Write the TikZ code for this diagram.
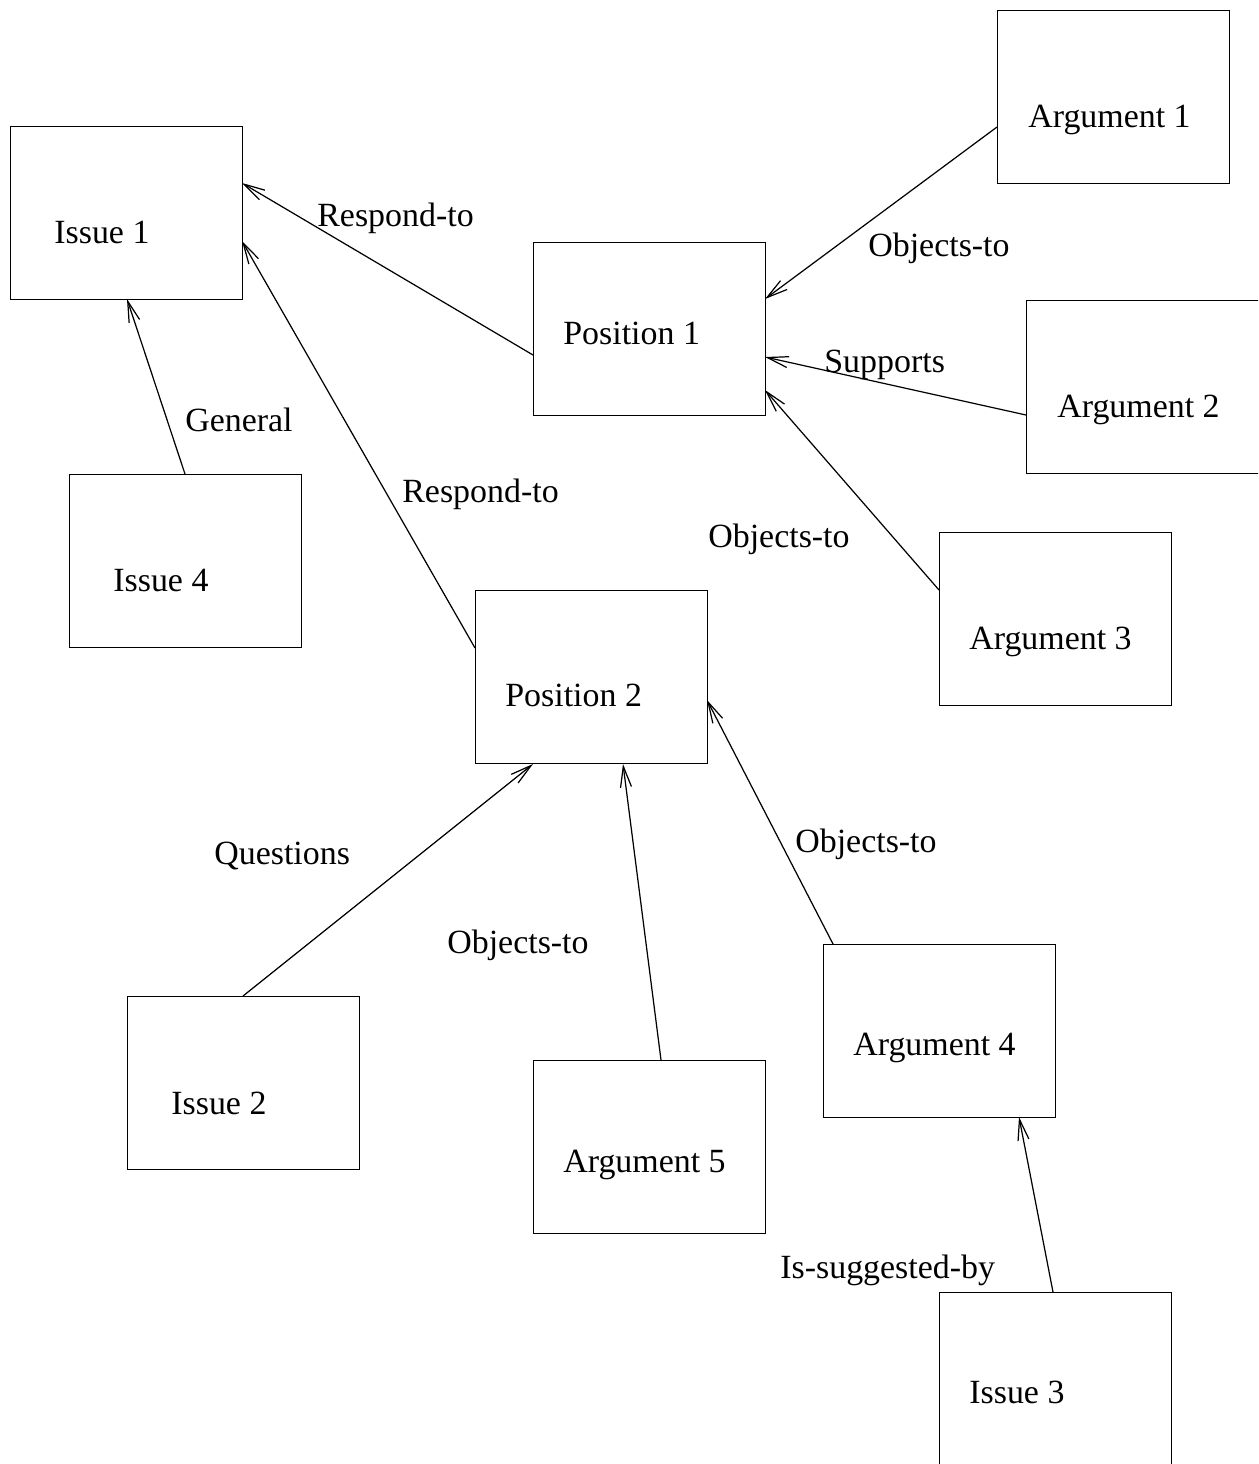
\documentclass[tikz,border=0pt]{standalone}
\usepackage{fontspec}
\setmainfont{Liberation Serif}
\usetikzlibrary{arrows.meta,calc}

\begin{document}
\begin{tikzpicture}[x=0.02cm,y=-0.02cm,
  box/.style={draw, line width=0.8pt, inner sep=0pt, anchor=north west,
              minimum width=4.64cm, minimum height=3.46cm},
  wide/.style={box, minimum width=4.9cm},
  txt/.style={anchor=base west, inner sep=0pt,
              font=\fontsize{19.3}{23}\selectfont},
  conn/.style={line width=0.7pt, -{Straight Barb[length=0.42cm,width=0.22cm,line width=0.7pt]}}]

\useasboundingbox (0,0) rectangle (1258,1464);
\clip (0,0) rectangle (1258,1464);

% boxes
\node[box]  (i1) at (10,126)  {};
\node[box]  (a1) at (997,10)  {};
\node[box]  (p1) at (533,242) {};
\node[wide] (a2) at (1026,300) {};
\node[box]  (i4) at (69,474)  {};
\node[box]  (a3) at (939,532) {};
\node[box]  (p2) at (475,590) {};
\node[box]  (i2) at (127,996) {};
\node[box]  (a5) at (533,1060) {};
\node[box]  (a4) at (823,944) {};
\node[box]  (i3) at (939,1292) {};

% box texts
\node[txt] (ti1) at ($(i1.north west)+(44,117)$) {Issue 1};
\node[txt] (ta1) at ($(a1.north west)+(31,117)$) {Argument 1};
\node[txt] (tp1) at ($(p1.north west)+(30,102)$) {Position 1};
\node[txt] (ta2) at ($(a2.north west)+(31,117)$) {Argument 2};
\node[txt] (ti4) at ($(i4.north west)+(44,117)$) {Issue 4};
\node[txt] (ta3) at ($(a3.north west)+(30,117)$) {Argument 3};
\node[txt] (tp2) at ($(p2.north west)+(30,116)$) {Position 2};
\node[txt] (ti2) at ($(i2.north west)+(44,118)$) {Issue 2};
\node[txt] (ta5) at ($(a5.north west)+(30,112)$) {Argument 5};
\node[txt] (ta4) at ($(a4.north west)+(30,111)$) {Argument 4};
\node[txt] (ti3) at ($(i3.north west)+(30,111)$) {Issue 3};

% connectors
\draw[conn] ($(p1.north west)+(0,113)$) -- ($(i1.north west)+(232,57)$);
\draw[conn] ($(a1.north west)+(0,117)$) -- ($(p1.north west)+(232,57)$);
\draw[conn] ($(a2.north west)+(0,115)$) -- ($(p1.north west)+(232,115)$);
\draw[conn] ($(a3.north west)+(0,58)$)  -- ($(p1.north west)+(232,148)$);
\draw[conn] ($(i4.north west)+(116,0)$) -- ($(i1.north west)+(117,173)$);
\draw[conn] ($(p2.north west)+(0,58)$)  -- ($(i1.north west)+(232,115)$);
\draw[conn] ($(i2.north west)+(116,0)$) -- ($(p2.north west)+(58,174)$);
\draw[conn] ($(a5.north west)+(128,0)$) -- ($(p2.north west)+(148,174)$);
\draw[conn] ($(a4.north west)+(10,0)$)  -- ($(p2.north west)+(232,110)$);
\draw[conn] ($(i3.north west)+(114,0)$) -- ($(a4.north west)+(196,173)$);

% connector labels
\node[txt] (l1)  at (317,226)  {Respond-to};
\node[txt] (l2)  at (868,256)  {Objects-to};
\node[txt] (l3)  at (824,372)  {Supports};
\node[txt] (l4)  at (708,547)  {Objects-to};
\node[txt] (l5)  at (185,431)  {General};
\node[txt] (l6)  at (402,502)  {Respond-to};
\node[txt] (l7)  at (214,864)  {Questions};
\node[txt] (l8)  at (447,953)  {Objects-to};
\node[txt] (l9)  at (795,852)  {Objects-to};
\node[txt] (l10) at (780,1278) {Is-suggested-by};
\end{tikzpicture}
\end{document}
